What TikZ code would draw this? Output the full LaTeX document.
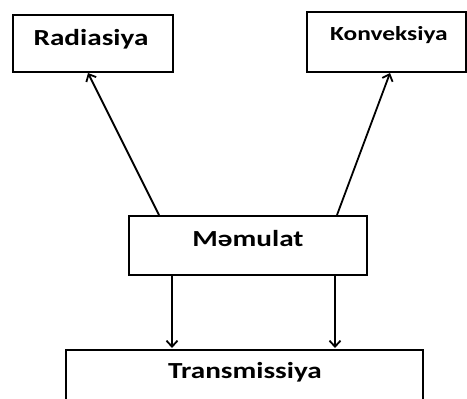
\documentclass[tikz,border=0pt]{standalone}
\usepackage{fontspec}
\setmainfont{Carlito}
\newfontfamily\widefont[FakeStretch=1.27]{Carlito}
\usetikzlibrary{arrows.meta}
\begin{document}
\begin{tikzpicture}[x=1pt,y=-1pt,
  box/.style={draw=black,line width=2pt,fill=white},
  lbl/.style={font=\widefont\bfseries\fontsize{23}{26}\selectfont,inner sep=0pt},
  conn/.style={line width=1.8pt,-{Straight Barb[length=6pt,width=11pt,line width=1.8pt]}}]
\useasboundingbox (0,0) rectangle (467,399);
\fill[white] (0,0) rectangle (467,399);
\draw[box] (12.5,15) rectangle (172.5,71.5);
\draw[box] (306.5,11.5) rectangle (465.5,71.5);
\draw[box] (129,216) rectangle (367,275);
\draw[box] (66,349.5) rectangle (423,410);
\node[lbl,anchor=base] (radt) at (91,45) {Radiasiya};
\node[lbl,anchor=base,font=\widefont\bfseries\fontsize{20}{23}\selectfont] (kont) at (389,40) {Konveksiya};
\node[lbl,anchor=base] (mamt) at (248,246) {Məmulat};
\node[lbl,anchor=base] (trt) at (245,378) {Transmissiya};
\coordinate (a1s) at (159,215);
\coordinate (a1e) at (88,73);
\coordinate (a2s) at (337,215);
\coordinate (a2e) at (390,73);
\coordinate (d1s) at (172,276);
\coordinate (d1e) at (172,348);
\coordinate (d2s) at (335,276);
\coordinate (d2e) at (335,348);
\draw[conn] (a1s) -- (a1e);
\draw[conn] (a2s) -- (a2e);
\draw[conn] (d1s) -- (d1e);
\draw[conn] (d2s) -- (d2e);
\end{tikzpicture}
\end{document}
